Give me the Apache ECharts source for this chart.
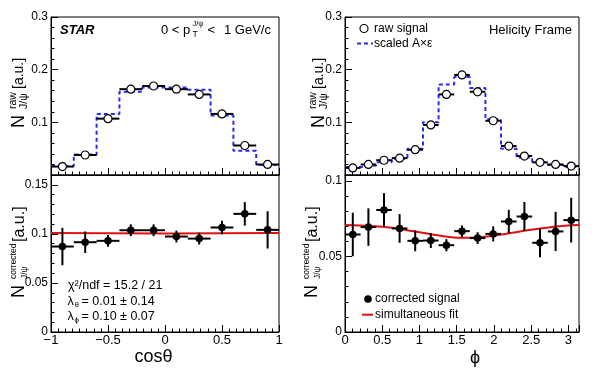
<!DOCTYPE html>
<html><head><meta charset="utf-8">
<script src="https://cdn.jsdelivr.net/npm/echarts@6/dist/echarts.min.js"></script>
<style>html,body{margin:0;padding:0;background:#fff}#c{width:600px;height:388px}</style>
</head><body><div id="c"></div>
<script>
// ---------- data ----------
const cosEdges = [-1, -0.8, -0.6, -0.4, -0.2, 0, 0.2, 0.4, 0.6, 0.8, 1];
const rawCos    = [0.016, 0.038, 0.107, 0.163, 0.169, 0.163, 0.153, 0.116, 0.056, 0.020];
const rawCosErr = [0.002, 0.003, 0.004, 0.005, 0.005, 0.005, 0.005, 0.004, 0.003, 0.002];
const accCos    = [0.017, 0.039, 0.116, 0.158, 0.166, 0.166, 0.162, 0.113, 0.046, 0.019];
const corrCos    = [0.0871, 0.0915, 0.0929, 0.1037, 0.1037, 0.0973, 0.0952, 0.1065, 0.1204, 0.1041];
const corrCosErr = [0.019, 0.011, 0.006, 0.006, 0.006, 0.006, 0.006, 0.007, 0.012, 0.019];
const fitCosX = [-1, 0, 1];
const fitCosY = [0.1008, 0.1005, 0.1008];

const phiEdges = [0, 0.2094, 0.4189, 0.6283, 0.8378, 1.0472, 1.2566, 1.4661, 1.6755, 1.8850, 2.0944, 2.3038, 2.5133, 2.7227, 2.9322, 3.1416];
const rawPhi    = [0.0135, 0.020, 0.028, 0.032, 0.048, 0.095, 0.153, 0.190, 0.158, 0.103, 0.055, 0.036, 0.024, 0.020, 0.017];
const rawPhiErr = [0.002, 0.002, 0.002, 0.003, 0.003, 0.004, 0.005, 0.005, 0.005, 0.004, 0.003, 0.003, 0.002, 0.002, 0.002];
const accPhi    = [0.015, 0.018, 0.024, 0.031, 0.050, 0.100, 0.172, 0.186, 0.165, 0.106, 0.050, 0.033, 0.024, 0.019, 0.015];
const corrPhi    = [0.0646, 0.0695, 0.0808, 0.0686, 0.0604, 0.0606, 0.0575, 0.0668, 0.0622, 0.0650, 0.0732, 0.0765, 0.0591, 0.0666, 0.0741];
const corrPhiErr = [0.0144, 0.0124, 0.0112, 0.0095, 0.0069, 0.0050, 0.0040, 0.0038, 0.0039, 0.0050, 0.0077, 0.0096, 0.0096, 0.0130, 0.0148];
const fitPhiX = [0, 0.2, 0.5, 0.8, 1.1, 1.4, 1.5708, 1.75, 2.05, 2.35, 2.65, 2.95, 3.1416];
const fitPhiY = [0.0708, 0.0705, 0.0697, 0.0678, 0.0652, 0.0630, 0.0624, 0.0626, 0.0642, 0.0666, 0.0688, 0.0704, 0.0708];

// ---------- helpers ----------
const FONT = '"Liberation Sans", Arial, Helvetica, sans-serif';
function pointsWithErr(edges, vals, errs) {
  return vals.map((v, i) => [(edges[i] + edges[i + 1]) / 2, v, (edges[i + 1] - edges[i]) / 2, errs[i]]);
}
function stepData(edges, vals) {
  const d = vals.map((v, i) => [edges[i], v]);
  d.push([edges[edges.length - 1], vals[vals.length - 1]]);
  return d;
}
function errRender(params, api) {
  const x = api.value(0), y = api.value(1), hw = api.value(2), e = api.value(3);
  const l = api.coord([x - hw, y]), r = api.coord([x + hw, y]);
  const t = api.coord([x, y + e]), b = api.coord([x, y - e]);
  const st = { stroke: '#000', lineWidth: 2 };
  return { type: 'group', children: [
    { type: 'line', shape: { x1: l[0], y1: l[1], x2: r[0], y2: r[1] }, style: st },
    { type: 'line', shape: { x1: t[0], y1: t[1], x2: b[0], y2: b[1] }, style: st }
  ]};
}
function fmt(v) { return String(+v.toFixed(4)).replace('-', '\u2212'); }

const grids = [
  { left: 51, top: 17, width: 228, height: 158 },
  { left: 51, top: 175, width: 228, height: 157 },
  { left: 345, top: 17, width: 234, height: 158 },
  { left: 345, top: 175, width: 234, height: 157 }
].map(g => Object.assign(g, { show: true, borderColor: '#000', borderWidth: 1, backgroundColor: 'transparent' }));

function xAx(gi, min, max, showLabel, minorSplit) {
  return {
    type: 'value', gridIndex: gi, min: min, max: max, interval: 0.5,
    axisLine: { show: true, onZero: false, lineStyle: { color: '#000', width: 1 } },
    axisTick: { show: true, inside: true, length: 7, lineStyle: { color: '#000' } },
    minorTick: { show: true, splitNumber: minorSplit, length: 3.5, lineStyle: { color: '#000' } },
    splitLine: { show: false }, minorSplitLine: { show: false },
    axisLabel: { show: showLabel, margin: 2, color: '#000', fontSize: 13, fontFamily: FONT, showMaxLabel: max === 1, formatter: fmt }
  };
}
function yAx(gi, min, max, interval, showMin, showMax) {
  return {
    type: 'value', gridIndex: gi, min: min, max: max, interval: interval,
    axisLine: { show: true, onZero: false, lineStyle: { color: '#000', width: 1 } },
    axisTick: { show: true, inside: true, length: 7, lineStyle: { color: '#000' } },
    minorTick: { show: true, splitNumber: 5, length: 3.5, lineStyle: { color: '#000' } },
    splitLine: { show: false }, minorSplitLine: { show: false },
    axisLabel: { margin: 3, color: '#000', fontSize: 12, fontFamily: FONT, showMinLabel: showMin, showMaxLabel: showMax, formatter: fmt }
  };
}

function txt(text, x, y, size, opts) {
  opts = opts || {};
  return {
    type: 'text', x: x, y: y, rotation: opts.rot || 0, z: 100,
    style: {
      text: text, fill: opts.color || '#000',
      font: (opts.weight || '') + ' ' + size + 'px ' + FONT,
      textAlign: opts.align || 'left', align: opts.align || 'left',
      textVerticalAlign: 'middle', verticalAlign: 'middle'
    }
  };
}
const R = Math.PI / 2;
function ytitle(dx, nY, sup, supSize, auY, auSize) {
  return [
    txt('N', 19.5 + dx, nY, 18, { rot: R }),
    txt(sup, 13.5 + dx, nY - 19, supSize, { rot: R }),
    txt('J/\u03c8', 24.5 + dx, nY - 19, supSize, { rot: R }),
    txt('[a.u.]', 19.5 + dx, auY, auSize, { rot: R })
  ];
}

const graphics = [].concat(
  [ txt('STAR', 60, 30.5, 13, { weight: 'italic bold' }),
    txt('0 < p', 161, 30.5, 13),
    txt('T', 192.5, 35, 8.5),
    txt('J/\u03c8', 192.5, 23.5, 7.5),
    txt('<', 207.5, 30.5, 13),
    txt('1 GeV/c', 224, 30.5, 13),
    txt('Helicity Frame', 572, 30.5, 13, { align: 'right' }),
    // legend top right
    { type: 'circle', shape: { cx: 364, cy: 28.5, r: 4 }, style: { fill: '#fff', stroke: '#000', lineWidth: 1.2 }, z: 100 },
    txt('raw signal', 374, 28.5, 12),
    { type: 'line', shape: { x1: 357, y1: 43.5, x2: 373, y2: 43.5 }, style: { stroke: '#2a2aff', lineWidth: 2, lineDash: [4, 3] }, z: 100 },
    txt('scaled A\u00d7\u03b5', 374, 43.5, 12),
    // stats bottom left
    txt('\u03c7\u00b2/ndf = 15.2 / 21', 68, 286, 12.5),
    txt('\u03bb', 67.5, 301.5, 12.5),
    txt('\u03b8', 74.5, 305, 8),
    txt('= 0.01 \u00b1 0.14', 81.5, 301.5, 12.5),
    txt('\u03bb', 67.5, 316.5, 12.5),
    txt('\u03d5', 74.5, 320, 8),
    txt('= 0.10 \u00b1 0.07', 81.5, 316.5, 12.5),
    // legend bottom right
    { type: 'circle', shape: { cx: 368, cy: 299, r: 3.8 }, style: { fill: '#000' }, z: 100 },
    txt('corrected signal', 375, 299, 12),
    { type: 'line', shape: { x1: 362, y1: 314.7, x2: 373, y2: 314.7 }, style: { stroke: '#e01010', lineWidth: 2 }, z: 100 },
    txt('simultaneous fit', 375, 314.7, 12),
    // x titles
    txt('cos\u03b8', 153.5, 357, 18, { align: 'center' }),
    txt('\u03d5', 475, 358, 18, { align: 'center' })
  ],
  ytitle(0, 128, 'raw', 10.5, 89, 14),
  ytitle(300, 128, 'raw', 10.5, 89, 14),
  ytitle(0, 298, 'corrected', 8.5, 242, 16),
  ytitle(293, 298, 'corrected', 8.5, 242, 16)
);

const chart = echarts.init(document.getElementById('c'), null, { renderer: 'canvas' });
chart.setOption({
  animation: false,
  backgroundColor: '#fff',
  grid: grids,
  xAxis: [ xAx(0, -1, 1, false, 8), xAx(1, -1, 1, true, 8), xAx(2, 0, Math.PI, false, 5), xAx(3, 0, Math.PI, true, 5) ],
  yAxis: [ yAx(0, 0, 0.3, 0.1, false, true), yAx(1, 0, 0.16, 0.05, true, false), yAx(2, 0, 0.3, 0.1, false, true), yAx(3, 0, 0.104, 0.05, true, false) ],
  series: [
    { type: 'line', xAxisIndex: 0, yAxisIndex: 0, step: 'end', data: stepData(cosEdges, accCos), symbol: 'none', lineStyle: { color: '#2a2aff', width: 2, type: [4, 3] }, z: 2 },
    { type: 'custom', xAxisIndex: 0, yAxisIndex: 0, renderItem: errRender, data: pointsWithErr(cosEdges, rawCos, rawCosErr), z: 3 },
    { type: 'scatter', xAxisIndex: 0, yAxisIndex: 0, data: pointsWithErr(cosEdges, rawCos, rawCosErr).map(p => [p[0], p[1]]), symbol: 'circle', symbolSize: 8, itemStyle: { color: '#fff', borderColor: '#000', borderWidth: 1.2, opacity: 1 }, z: 4 },

    { type: 'line', xAxisIndex: 1, yAxisIndex: 1, data: fitCosX.map((x, i) => [x, fitCosY[i]]), smooth: true, symbol: 'none', lineStyle: { color: '#e01010', width: 2 }, z: 2 },
    { type: 'custom', xAxisIndex: 1, yAxisIndex: 1, renderItem: errRender, data: pointsWithErr(cosEdges, corrCos, corrCosErr), z: 3 },
    { type: 'scatter', xAxisIndex: 1, yAxisIndex: 1, data: pointsWithErr(cosEdges, corrCos, corrCosErr).map(p => [p[0], p[1]]), symbol: 'circle', symbolSize: 7.5, itemStyle: { color: '#000', opacity: 1 }, z: 4 },

    { type: 'line', xAxisIndex: 2, yAxisIndex: 2, step: 'end', data: stepData(phiEdges, accPhi), symbol: 'none', lineStyle: { color: '#2a2aff', width: 2, type: [4, 3] }, z: 2 },
    { type: 'custom', xAxisIndex: 2, yAxisIndex: 2, renderItem: errRender, data: pointsWithErr(phiEdges, rawPhi, rawPhiErr), z: 3 },
    { type: 'scatter', xAxisIndex: 2, yAxisIndex: 2, data: pointsWithErr(phiEdges, rawPhi, rawPhiErr).map(p => [p[0], p[1]]), symbol: 'circle', symbolSize: 8, itemStyle: { color: '#fff', borderColor: '#000', borderWidth: 1.2, opacity: 1 }, z: 4 },

    { type: 'line', xAxisIndex: 3, yAxisIndex: 3, data: fitPhiX.map((x, i) => [x, fitPhiY[i]]), smooth: 0.4, symbol: 'none', lineStyle: { color: '#e01010', width: 2 }, z: 2 },
    { type: 'custom', xAxisIndex: 3, yAxisIndex: 3, renderItem: errRender, data: pointsWithErr(phiEdges, corrPhi, corrPhiErr), z: 3 },
    { type: 'scatter', xAxisIndex: 3, yAxisIndex: 3, data: pointsWithErr(phiEdges, corrPhi, corrPhiErr).map(p => [p[0], p[1]]), symbol: 'circle', symbolSize: 7.5, itemStyle: { color: '#000', opacity: 1 }, z: 4 }
  ],
  graphic: graphics
});
</script>
</body></html>
